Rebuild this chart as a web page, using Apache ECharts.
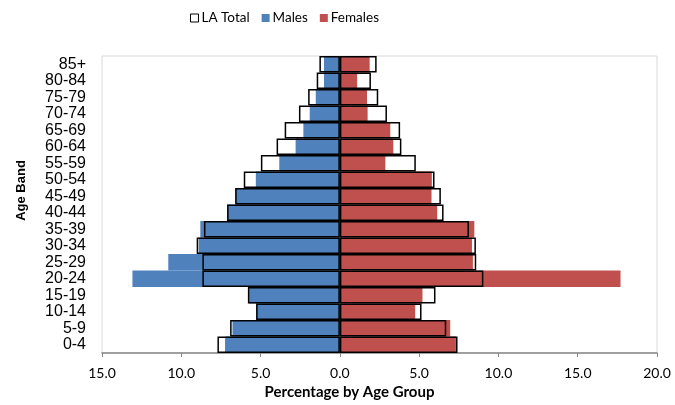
<!DOCTYPE html>
<html>
<head>
<meta charset="utf-8">
<script src="https://cdn.jsdelivr.net/npm/echarts@6/dist/echarts.min.js"></script>
<style>html,body{margin:0;padding:0;background:#fff}#c{width:675px;height:405px}</style>
</head>
<body>
<div id="c"></div>
<script>
const categories = ['0-4','5-9','10-14','15-19','20-24','25-29','30-34','35-39','40-44','45-49','50-54','55-59','60-64','65-69','70-74','75-79','80-84','85+'];
const males   = [7.24, 6.77, 5.28, 5.72, 13.08, 10.82, 8.9, 8.8, 7.11, 6.6, 5.3, 3.82, 2.79, 2.3, 1.9, 1.52, 1.0, 1.0];
const females = [7.32, 6.96, 4.75, 5.21, 17.7, 8.39, 8.33, 8.48, 6.14, 5.78, 5.8, 2.87, 3.37, 3.18, 1.75, 1.71, 1.09, 1.88];
const laTotalMales   = [7.72, 6.92, 5.28, 5.8, 8.67, 8.67, 9.03, 8.57, 7.11, 6.6, 6.06, 4.98, 3.99, 3.48, 2.58, 2.0, 1.46, 1.29];
const laTotalFemales = [7.42, 6.71, 5.15, 6.03, 9.05, 8.6, 8.58, 8.14, 6.54, 6.37, 5.97, 4.79, 3.88, 3.8, 2.97, 2.42, 1.96, 2.32];
const xTicks = [-15, -10, -5, 0, 5, 10, 15, 20];

const chart = echarts.init(document.getElementById('c'), null, {renderer: 'canvas'});
const barBase = {type: 'bar', barGap: '-100%', barCategoryGap: 0};
const laStyle = {color: 'rgba(255,255,255,0)', borderColor: '#000', borderWidth: 1.5};
chart.setOption({
  animation: false,
  textStyle: {fontFamily: 'Lato'},
  legend: {
    top: 11, left: 190, padding: 0,
    itemWidth: 8, itemHeight: 8, itemGap: 12,
    textStyle: {fontFamily: 'Lato', fontSize: 13.5, color: '#000', padding: [0,0,0,-2]},
    data: [
      {name: 'LA Total', icon: 'rect', itemStyle: {color: '#fff', borderColor: '#000', borderWidth: 1}},
      {name: 'Males', icon: 'rect'},
      {name: 'Females', icon: 'rect'}
    ]
  },
  grid: {left: 102, right: 18, top: 56, bottom: 48, show: true, borderColor: '#d9d9d9', borderWidth: 1},
  xAxis: {
    type: 'value', min: xTicks[0], max: xTicks[xTicks.length-1], interval: 5,
    splitLine: {show: false},
    axisLine: {show: true, onZero: false, lineStyle: {color: '#868686', width: 1.5}},
    axisTick: {show: true, length: 4, lineStyle: {color: '#868686'}},
    axisLabel: {margin: 13, fontFamily: 'Lato', fontSize: 14, color: '#000', formatter: v => Math.abs(v).toFixed(1)},
    name: 'Percentage by Age Group', nameLocation: 'middle', nameGap: 32,
    nameTextStyle: {fontFamily: 'Lato', fontWeight: 'bold', fontSize: 15, color: '#000', padding: [0, 60, 0, 0]}
  },
  yAxis: {
    type: 'category', data: categories,
    axisLine: {show: false, onZero: false},
    axisTick: {show: false},
    axisLabel: {interval: 0, margin: 16, fontFamily: 'Liberation Sans', fontSize: 16, color: '#000'},
    name: 'Age Band', nameLocation: 'middle', nameGap: 74, nameRotate: 90,
    nameTextStyle: {fontFamily: 'Liberation Sans', fontWeight: 'bold', fontSize: 13, color: '#000', padding: [0, 0, 0, 28]}
  },
  series: [
    Object.assign({}, barBase, {name: 'Males', data: males.map(v => -v), itemStyle: {color: '#4f81bd'}, z: 2}),
    Object.assign({}, barBase, {name: 'Females', data: females, itemStyle: {color: '#c0504d'}, z: 2}),
    Object.assign({}, barBase, {name: 'LA Total', data: laTotalMales.map(v => -v), itemStyle: laStyle, z: 3}),
    Object.assign({}, barBase, {name: 'LA Total', data: laTotalFemales, itemStyle: laStyle, z: 3})
  ]
});
</script>
</body>
</html>
